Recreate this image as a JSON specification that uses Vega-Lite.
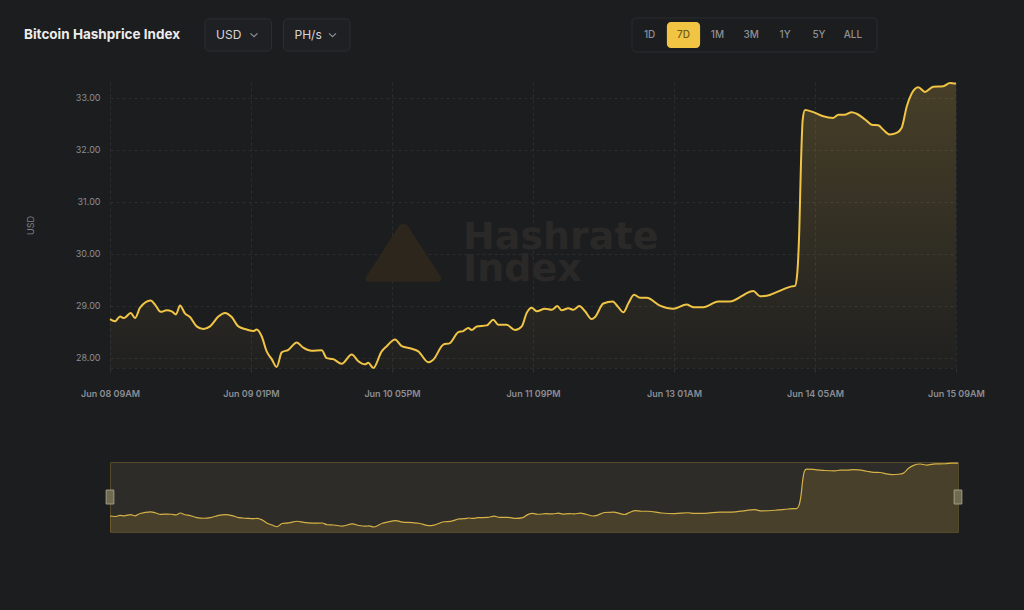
{
  "$schema": "https://vega.github.io/schema/vega-lite/v6.json",
  "background": "#1c1d1f",
  "padding": {"left": 24, "top": 17, "right": 0, "bottom": 78},
  "config": {"font": "Inter", "view": {"stroke": null}},
  "datasets": {
    "hashprice": [
      {"t": "2024-06-08T09:00", "v": 28.74}, {"t": "2024-06-08T10:00", "v": 28.70}, {"t": "2024-06-08T11:00", "v": 28.79},
      {"t": "2024-06-08T11:47", "v": 28.76}, {"t": "2024-06-08T13:07", "v": 28.86}, {"t": "2024-06-08T13:58", "v": 28.76},
      {"t": "2024-06-08T14:58", "v": 28.96}, {"t": "2024-06-08T17:05", "v": 29.10}, {"t": "2024-06-08T17:56", "v": 29.02},
      {"t": "2024-06-08T19:04", "v": 28.88}, {"t": "2024-06-08T20:16", "v": 28.91}, {"t": "2024-06-08T21:15", "v": 28.89},
      {"t": "2024-06-08T22:06", "v": 28.83}, {"t": "2024-06-08T22:54", "v": 29.00}, {"t": "2024-06-08T23:53", "v": 28.85},
      {"t": "2024-06-09T00:53", "v": 28.78}, {"t": "2024-06-09T02:13", "v": 28.60}, {"t": "2024-06-09T03:32", "v": 28.55},
      {"t": "2024-06-09T04:52", "v": 28.60}, {"t": "2024-06-09T06:31", "v": 28.79}, {"t": "2024-06-09T07:50", "v": 28.86},
      {"t": "2024-06-09T09:10", "v": 28.78}, {"t": "2024-06-09T10:29", "v": 28.60}, {"t": "2024-06-09T12:09", "v": 28.54},
      {"t": "2024-06-09T13:27", "v": 28.51}, {"t": "2024-06-09T14:08", "v": 28.54}, {"t": "2024-06-09T15:07", "v": 28.41},
      {"t": "2024-06-09T16:07", "v": 28.12}, {"t": "2024-06-09T17:07", "v": 27.97}, {"t": "2024-06-09T18:06", "v": 27.82},
      {"t": "2024-06-09T19:06", "v": 28.10}, {"t": "2024-06-09T20:25", "v": 28.15}, {"t": "2024-06-09T22:05", "v": 28.29},
      {"t": "2024-06-09T23:23", "v": 28.19}, {"t": "2024-06-10T01:03", "v": 28.13}, {"t": "2024-06-10T03:02", "v": 28.14},
      {"t": "2024-06-10T04:02", "v": 27.99}, {"t": "2024-06-10T05:20", "v": 27.97}, {"t": "2024-06-10T07:01", "v": 27.88},
      {"t": "2024-06-10T09:00", "v": 28.06}, {"t": "2024-06-10T10:19", "v": 27.93}, {"t": "2024-06-10T11:38", "v": 27.87},
      {"t": "2024-06-10T12:17", "v": 27.90}, {"t": "2024-06-10T13:17", "v": 27.80}, {"t": "2024-06-10T14:57", "v": 28.12},
      {"t": "2024-06-10T15:57", "v": 28.22}, {"t": "2024-06-10T17:36", "v": 28.35}, {"t": "2024-06-10T18:56", "v": 28.22},
      {"t": "2024-06-10T20:55", "v": 28.17}, {"t": "2024-06-10T22:13", "v": 28.12}, {"t": "2024-06-11T00:13", "v": 27.91},
      {"t": "2024-06-11T01:12", "v": 27.96}, {"t": "2024-06-11T03:11", "v": 28.25}, {"t": "2024-06-11T04:31", "v": 28.28},
      {"t": "2024-06-11T06:10", "v": 28.49}, {"t": "2024-06-11T07:10", "v": 28.51}, {"t": "2024-06-11T08:09", "v": 28.57},
      {"t": "2024-06-11T08:50", "v": 28.53}, {"t": "2024-06-11T09:49", "v": 28.60}, {"t": "2024-06-11T11:49", "v": 28.62},
      {"t": "2024-06-11T13:07", "v": 28.73}, {"t": "2024-06-11T14:07", "v": 28.63}, {"t": "2024-06-11T15:47", "v": 28.63},
      {"t": "2024-06-11T17:26", "v": 28.53}, {"t": "2024-06-11T18:46", "v": 28.60}, {"t": "2024-06-11T19:45", "v": 28.86},
      {"t": "2024-06-11T20:44", "v": 28.96}, {"t": "2024-06-11T21:44", "v": 28.89}, {"t": "2024-06-11T23:23", "v": 28.94},
      {"t": "2024-06-12T00:43", "v": 28.92}, {"t": "2024-06-12T01:50", "v": 28.99}, {"t": "2024-06-12T02:42", "v": 28.91},
      {"t": "2024-06-12T04:01", "v": 28.95}, {"t": "2024-06-12T05:00", "v": 28.92}, {"t": "2024-06-12T06:12", "v": 28.99},
      {"t": "2024-06-12T07:20", "v": 28.89}, {"t": "2024-06-12T08:40", "v": 28.74}, {"t": "2024-06-12T09:19", "v": 28.78},
      {"t": "2024-06-12T10:58", "v": 29.04}, {"t": "2024-06-12T12:50", "v": 29.08}, {"t": "2024-06-12T13:56", "v": 28.97},
      {"t": "2024-06-12T14:56", "v": 28.87}, {"t": "2024-06-12T15:55", "v": 29.04}, {"t": "2024-06-12T17:04", "v": 29.21},
      {"t": "2024-06-12T18:15", "v": 29.15}, {"t": "2024-06-12T19:35", "v": 29.15}, {"t": "2024-06-12T22:13", "v": 29.00},
      {"t": "2024-06-13T00:52", "v": 28.94}, {"t": "2024-06-13T03:31", "v": 29.02}, {"t": "2024-06-13T04:50", "v": 28.97},
      {"t": "2024-06-13T06:49", "v": 28.97}, {"t": "2024-06-13T09:48", "v": 29.08}, {"t": "2024-06-13T12:07", "v": 29.08},
      {"t": "2024-06-13T14:26", "v": 29.18}, {"t": "2024-06-13T15:26", "v": 29.24}, {"t": "2024-06-13T16:45", "v": 29.28},
      {"t": "2024-06-13T18:05", "v": 29.18}, {"t": "2024-06-13T19:25", "v": 29.19}, {"t": "2024-06-13T21:23", "v": 29.26},
      {"t": "2024-06-13T23:23", "v": 29.34}, {"t": "2024-06-14T00:22", "v": 29.37}, {"t": "2024-06-14T01:02", "v": 29.38},
      {"t": "2024-06-14T01:29", "v": 29.63}, {"t": "2024-06-14T01:53", "v": 30.46}, {"t": "2024-06-14T02:13", "v": 31.74},
      {"t": "2024-06-14T02:34", "v": 32.58}, {"t": "2024-06-14T03:01", "v": 32.76}, {"t": "2024-06-14T04:40", "v": 32.72},
      {"t": "2024-06-14T06:39", "v": 32.64}, {"t": "2024-06-14T08:38", "v": 32.61}, {"t": "2024-06-14T09:38", "v": 32.67},
      {"t": "2024-06-14T10:58", "v": 32.67}, {"t": "2024-06-14T12:17", "v": 32.72}, {"t": "2024-06-14T13:17", "v": 32.69},
      {"t": "2024-06-14T14:56", "v": 32.58}, {"t": "2024-06-14T16:16", "v": 32.48}, {"t": "2024-06-14T17:34", "v": 32.47},
      {"t": "2024-06-14T18:34", "v": 32.38}, {"t": "2024-06-14T19:53", "v": 32.29}, {"t": "2024-06-14T21:13", "v": 32.32},
      {"t": "2024-06-14T22:13", "v": 32.42}, {"t": "2024-06-14T23:13", "v": 32.83}, {"t": "2024-06-15T00:12", "v": 33.08},
      {"t": "2024-06-15T01:31", "v": 33.20}, {"t": "2024-06-15T02:50", "v": 33.11}, {"t": "2024-06-15T04:29", "v": 33.21},
      {"t": "2024-06-15T06:28", "v": 33.22}, {"t": "2024-06-15T07:48", "v": 33.28}, {"t": "2024-06-15T08:48", "v": 33.27},
      {"t": "2024-06-15T09:00", "v": 33.27}
    ],
    "handles": [{"t": "2024-06-08T09:00"}, {"t": "2024-06-15T09:00"}],
    "dropdowns": [{"label": "USD"}, {"label": "PH/s"}],
    "buttons": [
      {"label": "1D", "selected": false}, {"label": "7D", "selected": true}, {"label": "1M", "selected": false},
      {"label": "3M", "selected": false}, {"label": "1Y", "selected": false}, {"label": "5Y", "selected": false},
      {"label": "ALL", "selected": false}
    ]
  },
  "vconcat": [
    {
      "width": 914,
      "height": 34,
      "resolve": {"scale": {"x": "independent", "y": "independent"}},
      "layer": [
        {
          "data": {"values": [{"label": "Bitcoin Hashprice Index"}]},
          "mark": {"type": "text", "align": "left", "baseline": "middle", "fontSize": 13.5, "fontWeight": "bold", "color": "#ececec"},
          "encoding": {
            "x": {"field": "label", "type": "nominal", "sort": null, "bandPosition": 0, "scale": {"type": "band", "range": [-86, 0], "paddingInner": 0, "paddingOuter": 0}, "axis": null},
            "text": {"field": "label"}
          }
        },
        {
          "data": {"name": "dropdowns"},
          "mark": {"type": "rect", "fill": "#1f2023", "stroke": "#2d2e32", "strokeWidth": 1, "cornerRadius": 4},
          "encoding": {
            "x": {"field": "label", "type": "nominal", "sort": null, "scale": {"type": "band", "range": [95, 240], "paddingInner": 0.153, "paddingOuter": 0}, "axis": null},
            "y": {"datum": "h", "type": "nominal", "scale": {"type": "band", "paddingInner": 0, "paddingOuter": 0.03}, "axis": null}
          }
        },
        {
          "data": {"name": "dropdowns"},
          "mark": {"type": "text", "align": "left", "baseline": "middle", "dx": 11, "fontSize": 12, "color": "#d6d6d8"},
          "encoding": {
            "x": {"field": "label", "type": "nominal", "sort": null, "bandPosition": 0, "scale": {"type": "band", "range": [95, 240], "paddingInner": 0.153, "paddingOuter": 0}, "axis": null},
            "text": {"field": "label"}
          }
        },
        {
          "data": {"name": "dropdowns"},
          "mark": {"type": "point", "shape": "M-1,-0.45L0,0.45L1,-0.45", "filled": false, "size": 49, "xOffset": 49, "stroke": "#8d9095", "strokeWidth": 1.2, "opacity": 1},
          "encoding": {
            "x": {"field": "label", "type": "nominal", "sort": null, "bandPosition": 0, "scale": {"type": "band", "range": [95, 240], "paddingInner": 0.153, "paddingOuter": 0}, "axis": null}
          }
        },
        {
          "data": {"values": [{"g": "range"}]},
          "mark": {"type": "rect", "fill": "#1c1d1f", "stroke": "#2b2c30", "strokeWidth": 1, "cornerRadius": 4},
          "encoding": {
            "x": {"field": "g", "type": "nominal", "scale": {"type": "band", "range": [522, 767], "paddingInner": 0, "paddingOuter": 0}, "axis": null},
            "y": {"datum": "h", "type": "nominal", "scale": {"type": "band", "paddingInner": 0, "paddingOuter": 0}, "axis": null}
          }
        },
        {
          "data": {"name": "buttons"},
          "mark": {"type": "rect", "cornerRadius": 4},
          "encoding": {
            "x": {"field": "label", "type": "nominal", "sort": null, "scale": {"type": "band", "range": [523, 759.5], "paddingInner": 0.02, "paddingOuter": 0}, "axis": null},
            "y": {"datum": "h", "type": "nominal", "scale": {"type": "band", "paddingInner": 0, "paddingOuter": 0.154}, "axis": null},
            "color": {"condition": {"test": "datum.selected", "value": "#f2c443"}, "value": "transparent"}
          }
        },
        {
          "data": {"name": "buttons"},
          "mark": {"type": "text", "align": "center", "baseline": "middle", "fontSize": 10, "fontWeight": 500},
          "encoding": {
            "x": {"field": "label", "type": "nominal", "sort": null, "scale": {"type": "band", "range": [523, 759.5], "paddingInner": 0.02, "paddingOuter": 0}, "axis": null},
            "text": {"field": "label"},
            "color": {"condition": {"test": "datum.selected", "value": "#6f5c1c"}, "value": "#8e9196"}
          }
        }
      ]
    },
    {
      "width": 846,
      "height": 286,
      "layer": [
        {
          "data": {"name": "hashprice"},
          "mark": {
            "type": "area", "interpolate": "monotone",
            "color": {"gradient": "linear", "x1": 0, "y1": 0, "x2": 0, "y2": 1,
              "stops": [{"offset": 0, "color": "rgba(242,197,74,0.20)"}, {"offset": 1, "color": "rgba(242,197,74,0.02)"}]}
          },
          "encoding": {
            "x": {
              "field": "t", "type": "temporal",
              "scale": {"domain": [{"year": 2024, "month": 6, "date": 8, "hours": 9}, {"year": 2024, "month": 6, "date": 15, "hours": 9}], "nice": false},
              "axis": {
                "title": null,
                "values": [
                  {"year": 2024, "month": 6, "date": 8, "hours": 9}, {"year": 2024, "month": 6, "date": 9, "hours": 13},
                  {"year": 2024, "month": 6, "date": 10, "hours": 17}, {"year": 2024, "month": 6, "date": 11, "hours": 21},
                  {"year": 2024, "month": 6, "date": 13, "hours": 1}, {"year": 2024, "month": 6, "date": 14, "hours": 5},
                  {"year": 2024, "month": 6, "date": 15, "hours": 9}
                ],
                "format": "%b %d %I%p",
                "labelFlush": false,
                "labelOverlap": false,
                "labelColor": "#8b8e93",
                "labelFontSize": 9,
                "labelFontWeight": 600,
                "labelPadding": 17,
                "tickSize": 4,
                "tickColor": "#303135",
                "grid": true,
                "gridColor": "#2c2d31",
                "gridDash": [3, 3],
                "domainColor": "#2c2d31",
                "domainDash": [3, 3],
                "minExtent": 66,
                "maxExtent": 66
              }
            },
            "y": {
              "field": "v", "type": "quantitative",
              "scale": {"domain": [27.8, 33.3], "zero": false, "nice": false},
              "axis": {
                "title": "USD",
                "titleColor": "#7d8086",
                "titleFontSize": 9,
                "titleFontWeight": "normal",
                "titlePadding": 40,
                "values": [28, 29, 30, 31, 32, 33],
                "format": ".2f",
                "labelColor": "#8b8e93",
                "labelFontSize": 9,
                "labelPadding": 10,
                "ticks": false,
                "tickSize": 0,
                "domain": false,
                "grid": true,
                "gridColor": "#2c2d31",
                "gridDash": [3, 3]
              }
            },
            "y2": {"datum": 27.8}
          }
        },
        {
          "data": {"name": "hashprice"},
          "mark": {"type": "line", "interpolate": "monotone", "color": "#f0c445", "strokeWidth": 2},
          "encoding": {
            "x": {"field": "t", "type": "temporal"},
            "y": {"field": "v", "type": "quantitative"}
          }
        },
        {
          "data": {"values": [{"k": "logo"}]},
          "mark": {"type": "point", "shape": "M-0.1,-0.74Q0,-0.8 0.1,-0.74L0.97,0.6Q1.02,0.73 0.88,0.73L-0.88,0.73Q-1.02,0.73 -0.97,0.6Z", "size": 5929, "filled": true, "color": "#2c261c", "opacity": 1},
          "encoding": {
            "x": {"datum": {"year": 2024, "month": 6, "date": 10, "hours": 19, "minutes": 17}, "type": "temporal"},
            "y": {"datum": 30.0, "type": "quantitative"}
          }
        },
        {
          "data": {"values": [{"k": "watermark"}]},
          "mark": {"type": "text", "text": ["Hashrate", "Index"], "lineHeight": 32, "align": "left", "baseline": "alphabetic", "font": "DejaVu Sans", "fontSize": 38, "fontWeight": "bold", "color": "#2a2927"},
          "encoding": {
            "x": {"datum": {"year": 2024, "month": 6, "date": 11, "hours": 7, "minutes": 6}, "type": "temporal"},
            "y": {"datum": 30.08, "type": "quantitative"}
          }
        }
      ]
    },
    {
      "width": 848,
      "height": 70,
      "view": {"fill": "#2d2c28", "stroke": "#55492b", "strokeWidth": 1},
      "layer": [
        {
          "data": {"name": "hashprice"},
          "mark": {"type": "area", "interpolate": "monotone", "color": "#f0c040", "opacity": 0.14},
          "encoding": {
            "x": {"field": "t", "type": "temporal", "scale": {"nice": false}, "axis": null},
            "y": {"field": "v", "type": "quantitative", "scale": {"domain": [27.37, 33.37], "zero": false, "nice": false}, "axis": null},
            "y2": {"datum": 27.37}
          }
        },
        {
          "data": {"name": "hashprice"},
          "mark": {"type": "line", "interpolate": "monotone", "color": "#d6b246", "strokeWidth": 1.2},
          "encoding": {
            "x": {"field": "t", "type": "temporal"},
            "y": {"field": "v", "type": "quantitative"}
          }
        },
        {
          "data": {"name": "handles"},
          "mark": {"type": "point", "shape": "M-0.55,-1L0.55,-1L0.55,1L-0.55,1Z", "size": 196, "filled": true, "color": "#6f6a52", "stroke": "#a39d80", "strokeWidth": 1, "opacity": 1},
          "encoding": {
            "x": {"field": "t", "type": "temporal"},
            "y": {"datum": 30.37, "type": "quantitative"}
          }
        }
      ]
    }
  ],
  "spacing": 26
}
